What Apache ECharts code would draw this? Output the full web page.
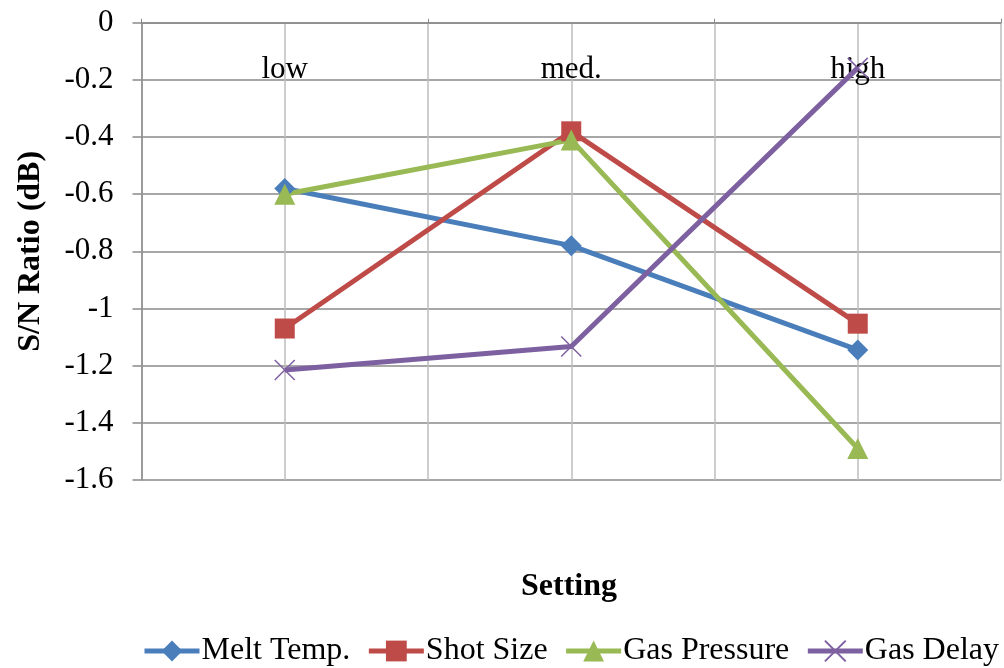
<!DOCTYPE html>
<html>
<head>
<meta charset="utf-8">
<script src="https://cdn.jsdelivr.net/npm/echarts@6/dist/echarts.min.js"></script>
<style>
html,body{margin:0;padding:0;background:#fff;}
#chart{width:1004px;height:668px;}
</style>
</head>
<body>
<div id="chart"></div>
<script>
const categories = ['low', 'med.', 'high'];
const meltTemp = [-0.58, -0.78, -1.145];
const shotSize = [-1.07, -0.38, -1.053];
const gasPressure = [-0.60, -0.41, -1.49];
const gasDelay = [-1.215, -1.133, -0.158];
const seriesNames = ['Melt Temp.', 'Shot Size', 'Gas Pressure', 'Gas Delay'];
const yMin = -1.6, yMax = 0, yStep = 0.2;

const FONT = "'Liberation Serif', 'Times New Roman', serif";
const chart = echarts.init(document.getElementById('chart'));
const xPath = 'path://M0,0L10,10M10,0L0,10';

function mk(name, data, color, symbol, size, extra) {
  return Object.assign({
    name: name, type: 'line', data: data,
    xAxisIndex: 0, yAxisIndex: 0,
    symbol: symbol, symbolSize: size,
    lineStyle: { color: color, width: 5 },
    itemStyle: { color: color },
    emphasis: { disabled: true },
    animation: false
  }, extra || {});
}

chart.setOption({
  backgroundColor: '#fff',
  animation: false,
  grid: { left: 141.5, right: 3, top: 22.7, bottom: 188, outerBoundsMode: 'none', containLabel: false },
  xAxis: [{
    type: 'category',
    data: categories,
    position: 'top',
    boundaryGap: true,
    axisLine: { show: true, lineStyle: { color: '#8a8a8a', width: 1.5 } },
    axisTick: { show: true, length: 4, lineStyle: { color: '#8a8a8a' } },
    axisLabel: { inside: true, margin: 32, fontFamily: FONT, fontSize: 31, color: '#000' },
    splitLine: { show: false }
  }, {
    type: 'value', min: 0, max: 6, interval: 1, position: 'bottom',
    axisLine: { show: false }, axisTick: { show: false }, axisLabel: { show: false },
    splitLine: { show: true, lineStyle: { color: '#bdbdbd', width: 1.5 } }
  }],
  yAxis: {
    type: 'value', min: yMin, max: yMax, interval: yStep,
    name: 'S/N Ratio (dB)', nameLocation: 'middle', nameGap: 95,
    nameTextStyle: { fontFamily: FONT, fontSize: 32, fontWeight: 'bold', color: '#000' },
    axisLine: { show: true, lineStyle: { color: '#8a8a8a', width: 1.5 } },
    axisTick: { show: true, length: 9, lineStyle: { color: '#8a8a8a', width: 1.5 } },
    axisLabel: { margin: 28, fontFamily: FONT, fontSize: 31, color: '#000',
      formatter: v => String(+(+v).toFixed(1)) },
    splitLine: { show: true, lineStyle: { color: '#8a8a8a', width: 1.5 } }
  },
  legend: {
    data: seriesNames,
    left: 142, top: 635, width: 880, padding: 0,
    itemWidth: 55, itemHeight: 26, itemGap: 16,
    lineStyle: { width: 5 },
    textStyle: { fontFamily: FONT, fontSize: 32, color: '#000', padding: [0, 0, 0, -3] }
  },
  graphic: [{
    type: 'text', x: 569, y: 587,
    style: { text: 'Setting', fontFamily: FONT, fontSize: 32, fontWeight: 'bold',
      fill: '#000', align: 'center', verticalAlign: 'middle' }
  }],
  series: [
    mk('Melt Temp.', meltTemp, '#4A7EBB', 'diamond', 21),
    mk('Shot Size', shotSize, '#BE4B48', 'rect', 20),
    mk('Gas Pressure', gasPressure, '#98B954', 'triangle', 21),
    mk('Gas Delay', gasDelay, '#7D60A0', xPath, 20, {
      itemStyle: { color: '#7D60A0', borderColor: '#7D60A0', borderWidth: 1.5 }
    })
  ]
});
</script>
</body>
</html>
